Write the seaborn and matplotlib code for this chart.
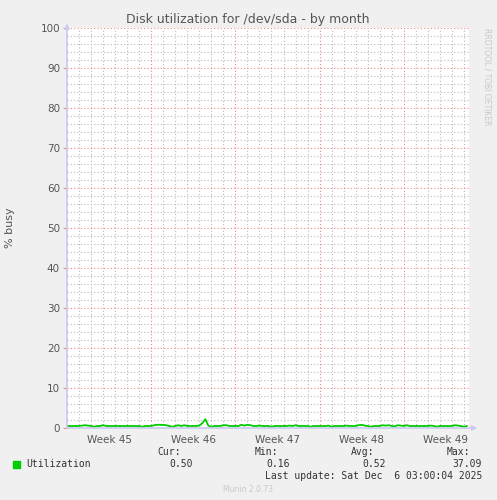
import numpy as np
import pandas as pd
import matplotlib
matplotlib.use("Agg")
import matplotlib.pyplot as plt
import seaborn as sns

# ---- data (6-hour samples, % busy) ----
week45 = [0.5,0.5,0.5,0.5,0.5,0.6,0.7,0.6,0.5,0.3,0.5,0.5,0.7,0.5,0.5,0.5,0.5,0.5,0.5,0.5,0.5,0.5,0.5,0.5,0.5,0.3,0.5,0.5]
week46 = [0.5,0.7,0.8,0.8,0.75,0.7,0.5,0.3,0.5,0.7,0.5,0.7,0.5,0.5,0.5,0.5,0.6,1.2,2.2,0.6,0.3,0.5,0.5,0.5,0.7,0.7,0.5,0.5]
week47 = [0.5,0.5,0.8,0.6,0.8,0.7,0.5,0.5,0.6,0.5,0.5,0.5,0.3,0.5,0.5,0.5,0.5,0.5,0.6,0.5,0.7,0.5,0.5,0.5,0.5,0.3,0.5,0.5]
week48 = [0.5,0.5,0.5,0.6,0.3,0.5,0.5,0.5,0.5,0.6,0.5,0.5,0.5,0.7,0.8,0.6,0.5,0.3,0.5,0.5,0.5,0.7,0.6,0.7,0.5,0.4,0.7,0.6]
week49 = [0.5,0.7,0.5,0.5,0.5,0.5,0.5,0.5,0.5,0.6,0.5,0.3,0.5,0.5,0.5,0.5,0.5,0.7,0.6,0.5,0.3,0.5]
week_labels = ["Week 45", "Week 46", "Week 47", "Week 48", "Week 49"]
y_ticks = [0, 10, 20, 30, 40, 50, 60, 70, 80, 90, 100]
legend_name = "Utilization"
stats_labels = ["Cur:", "Min:", "Avg:", "Max:"]
stats_values = ["0.50", "0.16", "0.52", "37.09"]
last_update = "Last update: Sat Dec  6 03:00:04 2025"

values = week45 + week46 + week47 + week48 + week49
df = pd.DataFrame({"day": np.arange(len(values)) * 0.25, "busy": values})

sns.set_theme(style="white")
plt.rcParams['font.family'] = ['DejaVu Sans']

W, H = 497, 500
fig = plt.figure(figsize=(W / 100, H / 100), dpi=100, facecolor="#F0F0F0")
ax = fig.add_axes([67 / W, (H - 428) / H, 402 / W, 400 / H])
ax.set_facecolor("white")

xmax = 33.42
ax.set_xlim(0, xmax)
ax.set_ylim(0, 100)

# grid
for d in range(1, 34):
    if d % 7 == 0:
        continue
    ax.axvline(d, color="#BBBBBB", lw=0.8, ls=(0, (1, 2)), zorder=1)
for v in range(2, 100, 2):
    if v % 10 == 0:
        continue
    ax.axhline(v, color="#BBBBBB", lw=0.8, ls=(0, (1, 2)), zorder=1)
for d in range(7, 34, 7):
    ax.axvline(d, color="#F08888", lw=0.8, ls=(0, (1, 2)), zorder=2)
for v in y_ticks[1:]:
    ax.axhline(v, color="#F08888", lw=0.8, ls=(0, (1, 2)), zorder=2)

sns.lineplot(data=df, x="day", y="busy", ax=ax, color="#00CC00", lw=1.3, zorder=5)

for s in ax.spines.values():
    s.set_visible(False)
ax.plot([0, 0], [0, 100], color="#C8C8F0", lw=1.2, zorder=6, clip_on=False)
ax.plot([0, xmax], [0, 0], color="#C8C8F0", lw=1.2, zorder=6, clip_on=False)
ax.annotate("", xy=(0, 101.8), xytext=(0, 99.5),
            arrowprops=dict(arrowstyle="-|>", color="#C8C8F0", lw=0.8, mutation_scale=8),
            annotation_clip=False)
ax.annotate("", xy=(xmax + 0.9, 0), xytext=(xmax - 0.1, 0),
            arrowprops=dict(arrowstyle="-|>", color="#C8C8F0", lw=0.8, mutation_scale=8),
            annotation_clip=False)

ax.set_yticks(y_ticks)
ax.set_yticklabels([str(v) for v in y_ticks])
ax.set_xticks([3.5 + 7 * i for i in range(5)])
ax.set_xticklabels(week_labels)
ax.tick_params(axis="y", length=3, width=0.8, color="#F08888", labelsize=7.5,
               labelcolor="#555555", pad=2, left=True)
ax.tick_params(axis="x", length=0, labelsize=7.5, labelcolor="#555555", pad=5)
ax.set_xlabel("")
ax.set_ylabel("% busy", fontsize=8, color="#555555", labelpad=18)

fig.text(248 / W, 1 - 19 / H, "Disk utilization for /dev/sda - by month",
         ha="center", va="center", fontsize=9, color="#555555")
fig.text(487 / W, 1 - 28 / H, "RRDTOOL / TOBI OETIKER", rotation=270,
         ha="center", va="top", fontsize=5.5, color="#C8C8C8")

mono = "DejaVu Sans Mono"
fig.patches.append(plt.Rectangle((13 / W, 1 - 468 / H), 7 / W, 7 / H,
                                 transform=fig.transFigure, color="#00CC00"))
fig.text(26 / W, 1 - 464 / H, legend_name, fontsize=7, family=mono,
         color="#333333", ha="left", va="center")
lab_x = [181, 278, 374, 470]
val_x = [193, 290, 386, 482]
for lx, vx, lab, val in zip(lab_x, val_x, stats_labels, stats_values):
    fig.text(lx / W, 1 - 452 / H, lab, fontsize=7, family=mono, color="#333333",
             ha="right", va="center")
    fig.text(vx / W, 1 - 464 / H, val, fontsize=7, family=mono, color="#333333",
             ha="right", va="center")
fig.text(482 / W, 1 - 476 / H, last_update, fontsize=7, family=mono,
         color="#333333", ha="right", va="center")
fig.text(248 / W, 1 - 489 / H, "Munin 2.0.73", fontsize=5.5, color="#C8C8C8",
         ha="center", va="center")

fig.savefig("out.png", dpi=100, facecolor=fig.get_facecolor())
